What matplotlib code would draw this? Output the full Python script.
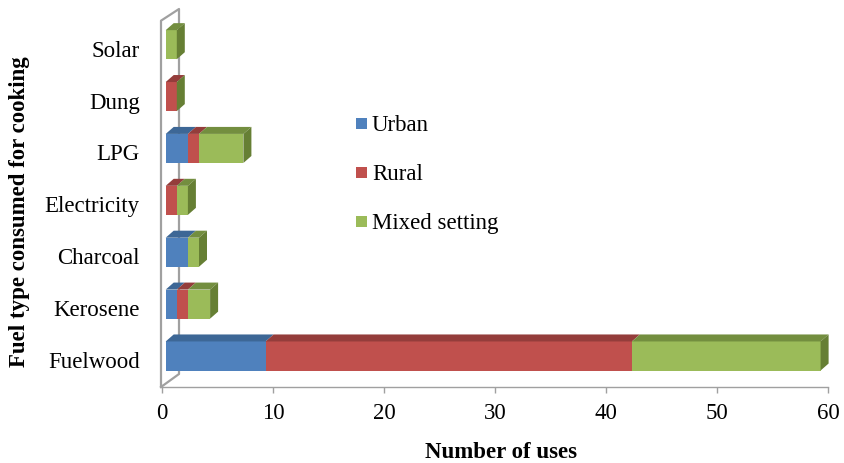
import matplotlib
matplotlib.use("Agg")
import matplotlib.pyplot as plt
from matplotlib.patches import Polygon, Rectangle
from matplotlib.lines import Line2D

plt.rcParams['font.family'] = ['Liberation Serif', 'DejaVu Serif']

categories = ["Fuelwood", "Kerosene", "Charcoal", "Electricity", "LPG", "Dung", "Solar"]
urban = [9, 1, 2, 0, 2, 0, 0]
rural = [33, 1, 0, 1, 1, 1, 0]
mixed = [17, 2, 1, 1, 4, 0, 1]
series_names = ["Urban", "Rural", "Mixed setting"]
xticks = [0, 10, 20, 30, 40, 50, 60]

front_cols = ["#4F81BD", "#C0504D", "#9BBB59"]
top_cols = ["#3D6796", "#943D3B", "#738E3F"]
side_col = "#667F34"
grey = "#A0A0A0"

W, H = 845, 464
fig = plt.figure(figsize=(W / 100, H / 100), dpi=100)

def F(x, y):
    return (x / W, (H - y) / H)

ax_l, ax_r, ax_b, ax_t = 162, 828, 388, 21.7
ax = fig.add_axes([ax_l / W, (H - ax_b) / H, (ax_r - ax_l) / W, (ax_b - ax_t) / H])
xmin, xmax = 0, 60
ymin, ymax = -0.54, 6.52
ax.set_xlim(xmin, xmax)
ax.set_ylim(ymin, ymax)
sx = (xmax - xmin) / (ax_r - ax_l)
sy = (ymax - ymin) / (ax_b - ax_t)

for s in ["top", "right", "left"]:
    ax.spines[s].set_visible(False)
ax.spines["bottom"].set_color(grey)
ax.spines["bottom"].set_linewidth(1.0)
ax.set_xticks(xticks)
ax.set_xticklabels([str(t) for t in xticks], fontsize=16.5)
ax.tick_params(axis="x", direction="out", length=4, width=1, color=grey, pad=7)
ax.set_yticks(range(len(categories)))
ax.set_yticklabels(categories, fontsize=16.5)
ax.tick_params(axis="y", length=0, pad=16)
ax.set_facecolor("none")

# left wall (3D frame), drawn in pixel space beneath the bars
wall_pts = [(161, 388), (161, 21.7), (179, 10), (179, 375), (161, 388)]
inv = ax.transData.inverted()
fig.canvas.draw()
wall_data = [inv.transform(fig.transFigure.transform(F(*p))) for p in wall_pts]
ax.add_line(Line2D([p[0] for p in wall_data], [p[1] for p in wall_data], color=grey, lw=1.6,
                   clip_on=False, zorder=1, solid_joinstyle="round"))

# bars in 3D style
ox, oy = 3.7 * sx, 3.0 * sy          # bar plane offset
dx, dy = 8.0 * sx, 7.0 * sy          # bar depth
half = 0.28
for i, cat in enumerate(categories):
    vals = [urban[i], rural[i], mixed[i]]
    yb = i - half + oy
    yt = i + half + oy
    left = 0.0
    for k, v in enumerate(vals):
        x0 = left + ox
        x1 = left + v + ox
        if v > 0:
            ax.add_patch(Rectangle((x0, yb), v, yt - yb, facecolor=front_cols[k],
                                   edgecolor="none", clip_on=False, zorder=3))
            ax.add_patch(Polygon([(x0, yt), (x1, yt), (x1 + dx, yt + dy), (x0 + dx, yt + dy)],
                                 closed=True, facecolor=top_cols[k], edgecolor="none",
                                 clip_on=False, zorder=3))
        left += v
    xe = left + ox
    ax.add_patch(Polygon([(xe, yb), (xe, yt), (xe + dx, yt + dy), (xe + dx, yb + dy)],
                         closed=True, facecolor=side_col, edgecolor="none",
                         clip_on=False, zorder=3))

# legend
rows = [124, 173, 222]
for k, name in enumerate(series_names):
    c = rows[k]
    x0, y0 = F(356, c + 5.5)
    fig.add_artist(Rectangle((x0, y0), 11 / W, 11 / H, transform=fig.transFigure,
                             facecolor=front_cols[k], edgecolor="none"))
    tx, ty = F(372, c + 7)
    fig.text(tx, ty, name, fontsize=16.5, ha="left", va="baseline")

# axis titles
fig.text(501 / W, (H - 453) / H, "Number of uses", fontsize=16.5, fontweight="bold",
         ha="center", va="center")
fig.text(20 / W, (H - 212) / H, "Fuel type consumed for cooking", fontsize=16.5,
         fontweight="bold", rotation=90, ha="center", va="center")

fig.savefig("out.png", dpi=100)
